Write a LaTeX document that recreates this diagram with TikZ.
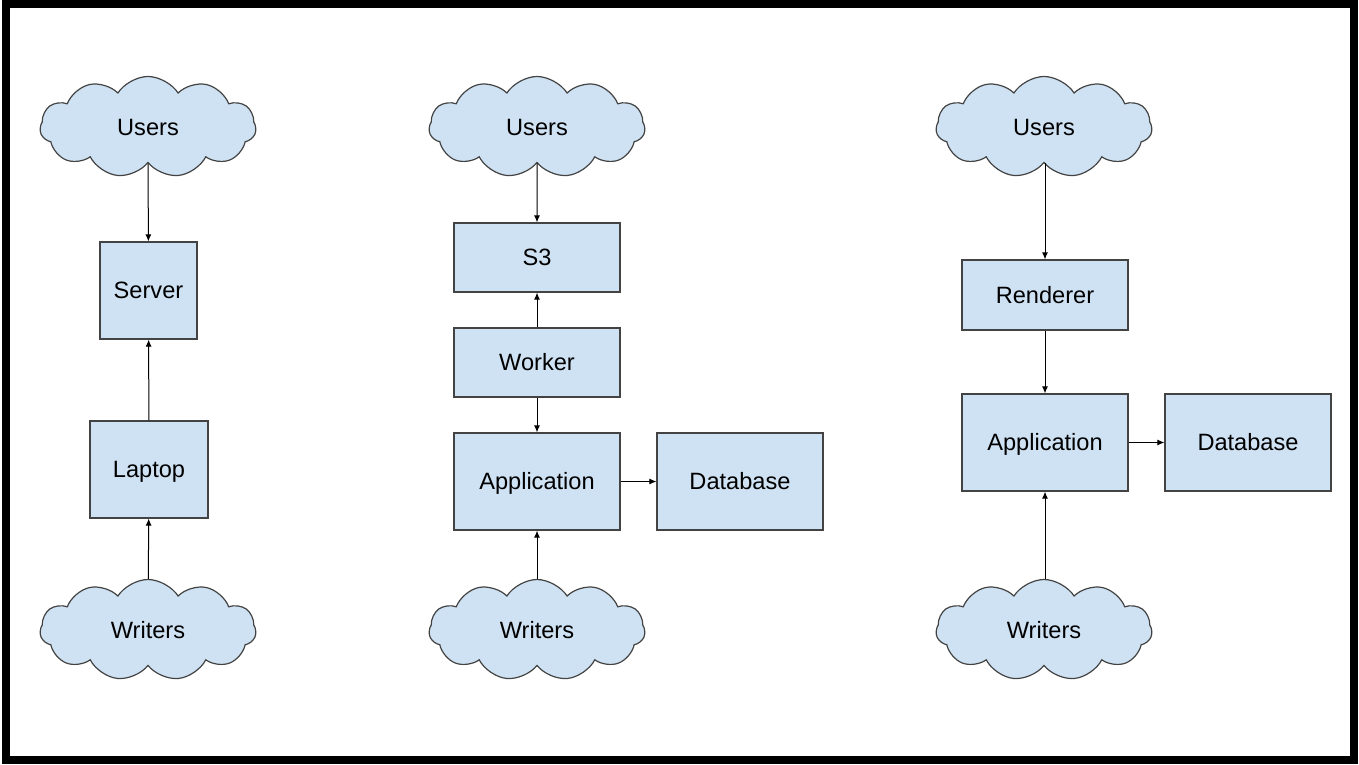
\documentclass[tikz,border=0pt]{standalone}
\usepackage{fontspec}
\setmainfont{Liberation Sans}
\usepackage{tikz}
\usetikzlibrary{arrows.meta,shapes.symbols}
\definecolor{boxfill}{HTML}{CFE2F3}
\definecolor{boxline}{HTML}{434343}

\begin{document}
\begin{tikzpicture}[x=0.5pt, y=-0.5pt,
    font=\fontsize{11.8}{14}\selectfont,
    box/.style={draw=boxline, fill=boxfill, line width=0.6pt, inner sep=0pt, text height=8.4pt, text depth=0pt},
    crowd/.style={cloud, cloud puffs=11, cloud puff arc=115, aspect=2.1, draw=boxline, fill=boxfill, line width=0.6pt, minimum width=108pt, minimum height=50.5pt, inner sep=0pt, text height=8.4pt, text depth=0pt},
    link/.style={-{Latex[length=3.5pt,width=3pt]}, line width=0.5pt, black}]
\useasboundingbox (0,0) rectangle (1359,765);
\draw[black, line width=4pt] (6,4) rectangle (1354,760);

\node[crowd] (users1) at (148,127) {Users};
\node[box, minimum width=48.5pt, minimum height=48.5pt] (server) at (148.5,290.5) {Server};
\node[box, minimum width=59pt, minimum height=48.5pt] (laptop) at (149,469.5) {Laptop};
\node[crowd] (writers1) at (148,630) {Writers};

\node[crowd] (users2) at (537,127) {Users};
\node[box, minimum width=83pt, minimum height=34.5pt] (s3) at (537,257.5) {S3};
\node[box, minimum width=83pt, minimum height=34.5pt] (worker) at (537,362.5) {Worker};
\node[box, minimum width=83pt, minimum height=48.5pt] (app2) at (537,481.5) {Application};
\node[box, minimum width=83pt, minimum height=48.5pt] (db2) at (740,481.5) {Database};
\node[crowd] (writers2) at (537,630) {Writers};

\node[crowd] (users3) at (1044,127) {Users};
\node[box, minimum width=83pt, minimum height=35pt] (renderer) at (1045,295) {Renderer};
\node[box, minimum width=83pt, minimum height=48.5pt] (app3) at (1045,442.5) {Application};
\node[box, minimum width=83pt, minimum height=48.5pt] (db3) at (1248,442.5) {Database};
\node[crowd] (writers3) at (1044,630) {Writers};

\draw[link] (users1) -- (server);
\draw[link] (laptop) -- (server);
\draw[link] (writers1) -- (laptop);

\draw[link] (users2) -- (s3);
\draw[link] (worker) -- (s3);
\draw[link] (worker) -- (app2);
\draw[link] (app2) -- (db2);
\draw[link] (writers2) -- (app2);

\draw[link] (users3.south -| renderer) -- (renderer);
\draw[link] (renderer) -- (app3);
\draw[link] (app3) -- (db3);
\draw[link] (writers3.north -| app3) -- (app3);
\end{tikzpicture}
\end{document}
